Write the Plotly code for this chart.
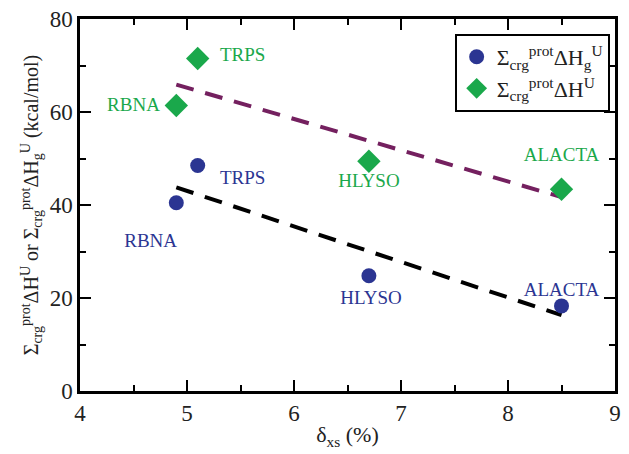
import plotly.graph_objects as go

names = ["RBNA", "TRPS", "HLYSO", "ALACTA"]
delta_xs = [4.9, 5.1, 6.7, 8.5]
dHg = [40.5, 48.5, 24.8, 18.3]
dH = [61.4, 71.5, 49.4, 43.4]

fit_x = [4.9, 8.5]
fit_g = [43.8, 16.3]
fit_h = [65.9, 41.7]

# label anchor positions (data units)
lab_g_x = [4.66, 5.52, 6.72, 8.5]
lab_g_y = [32.0, 45.5, 19.7, 21.5]
lab_h_x = [4.5, 5.52, 6.7, 8.5]
lab_h_y = [61.2, 72.0, 45.0, 50.5]

blue = "#2B3592"
green = "#1AA84B"
purple = "#74205F"
font = "Liberation Serif"
tcol = "#222"

fig = go.Figure()
fig.add_trace(go.Scatter(x=fit_x, y=fit_h, mode="lines", showlegend=False,
                         line=dict(color=purple, width=4, dash="18px,12px")))
fig.add_trace(go.Scatter(x=fit_x, y=fit_g, mode="lines", showlegend=False,
                         line=dict(color="black", width=4, dash="18px,12px")))
fig.add_trace(go.Scatter(x=delta_xs, y=dHg, mode="markers",
                         name="Σ<sub>crg</sub><sup>prot</sup>ΔH<sub>g</sub><sup>U</sup>",
                         marker=dict(symbol="circle", size=15, color=blue)))
fig.add_trace(go.Scatter(x=delta_xs, y=dH, mode="markers",
                         name="Σ<sub>crg</sub><sup>prot</sup>ΔH<sup>U</sup>",
                         marker=dict(symbol="diamond", size=18, color=green)))
fig.add_trace(go.Scatter(x=lab_g_x, y=lab_g_y, mode="text", text=names, showlegend=False,
                         textfont=dict(color=blue, size=19, family=font)))
fig.add_trace(go.Scatter(x=lab_h_x, y=lab_h_y, mode="text", text=names, showlegend=False,
                         textfont=dict(color=green, size=19, family=font)))

axis_common = dict(showline=True, linecolor="black", linewidth=2.5, mirror="ticks",
                   ticks="inside", ticklen=11, tickwidth=2, tickcolor="black",
                   showgrid=False, zeroline=False, automargin=False,
                   ticklabeloverflow="allow",
                   tickfont=dict(family=font, size=23, color=tcol))
fig.update_xaxes(range=[4, 9], dtick=1, **axis_common, ticklabelstandoff=0,
                 minor=dict(ticks="inside", ticklen=6, dtick=0.5, tickwidth=1.5, tickcolor="black"),
                 title=dict(text="δ<sub>xs</sub> (%)", font=dict(family=font, size=22, color=tcol), standoff=2))
fig.update_yaxes(range=[0, 80], dtick=20, **axis_common,
                 minor=dict(ticks="inside", ticklen=6, dtick=10, tickwidth=1.5, tickcolor="black"),
                 title=dict(text="Σ<sub>crg</sub><sup>prot</sup>ΔH<sup>U</sup> or Σ<sub>crg</sub><sup>prot</sup>ΔH<sub>g</sub><sup>U</sup> (kcal/mol)",
                            font=dict(family=font, size=20, color=tcol), standoff=6))
# the page body adds an 8px offset, so the figure is sized 8px smaller
fig.update_layout(width=621, height=446, plot_bgcolor="white", paper_bgcolor="white",
                  margin=dict(l=72, r=14, t=11, b=63),
                  font=dict(family=font),
                  legend=dict(x=0.99, y=0.96, xanchor="right", yanchor="top",
                              bordercolor="black", borderwidth=2, bgcolor="white",
                              tracegroupgap=4, itemwidth=30,
                              font=dict(family=font, size=22, color=tcol)))
fig.write_html("out.html")
